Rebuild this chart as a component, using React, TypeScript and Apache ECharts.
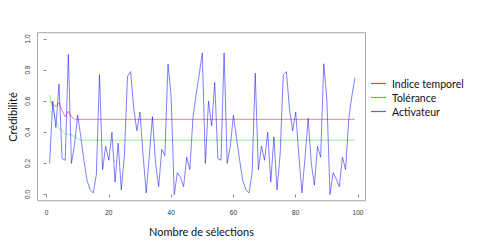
import React, { useEffect, useRef } from "react";
import * as echarts from "echarts";

const xTicks = [0, 20, 40, 60, 80, 100];
const yTicks = [0, 0.2, 0.4, 0.6, 0.8, 1.0];

const seriesNames = ["Indice temporel", "Tolérance", "Activateur"];

const indiceTemporel = [
  0.60, 0.58, 0.565, 0.59, 0.54, 0.50, 0.535, 0.50, 0.485, 0.483,
  0.483, 0.483, 0.483, 0.483, 0.483, 0.483, 0.483, 0.483, 0.483, 0.483,
  0.483, 0.483, 0.483, 0.483, 0.483, 0.483, 0.483, 0.483, 0.483, 0.483,
  0.483, 0.483, 0.483, 0.483, 0.483, 0.483, 0.483, 0.483, 0.483, 0.483,
  0.483, 0.483, 0.483, 0.483, 0.483, 0.483, 0.483, 0.483, 0.483, 0.483,
  0.483, 0.483, 0.483, 0.483, 0.483, 0.483, 0.483, 0.483, 0.483, 0.483,
  0.483, 0.483, 0.483, 0.483, 0.483, 0.483, 0.483, 0.483, 0.483, 0.483,
  0.483, 0.483, 0.483, 0.483, 0.483, 0.483, 0.483, 0.483, 0.483, 0.483,
  0.483, 0.483, 0.483, 0.483, 0.483, 0.483, 0.483, 0.483, 0.483, 0.483,
  0.483, 0.483, 0.483, 0.483, 0.483, 0.483, 0.483, 0.483, 0.483,
];

const tolerance = [
  0.64, 0.55, 0.47, 0.43, 0.41, 0.39, 0.385, 0.383, 0.37, 0.36,
  0.35, 0.349, 0.349, 0.349, 0.349, 0.349, 0.349, 0.349, 0.349, 0.349,
  0.349, 0.349, 0.349, 0.349, 0.349, 0.349, 0.349, 0.349, 0.349, 0.349,
  0.349, 0.349, 0.349, 0.349, 0.349, 0.349, 0.349, 0.349, 0.349, 0.349,
  0.349, 0.349, 0.349, 0.349, 0.349, 0.349, 0.349, 0.349, 0.349, 0.349,
  0.349, 0.349, 0.349, 0.349, 0.349, 0.349, 0.349, 0.349, 0.349, 0.349,
  0.349, 0.349, 0.349, 0.349, 0.349, 0.349, 0.349, 0.349, 0.349, 0.349,
  0.349, 0.349, 0.349, 0.349, 0.349, 0.349, 0.349, 0.349, 0.349, 0.349,
  0.349, 0.349, 0.349, 0.349, 0.349, 0.349, 0.349, 0.349, 0.349, 0.349,
  0.349, 0.349, 0.349, 0.349, 0.349, 0.349, 0.349, 0.349, 0.349,
];

const activateur = [
  0.20, 0.60, 0.43, 0.71, 0.23, 0.22, 0.90, 0.20, 0.32, 0.51,
  0.37, 0.22, 0.09, 0.03, 0.01, 0.13, 0.77, 0.16, 0.31, 0.22,
  0.40, 0.08, 0.33, 0.03, 0.25, 0.76, 0.79, 0.55, 0.41, 0.53,
  0.25, 0.01, 0.25, 0.50, 0.20, 0.05, 0.29, 0.25, 0.84, 0.63,
  0.00, 0.14, 0.11, 0.05, 0.24, 0.16, 0.49, 0.64, 0.77, 0.91,
  0.20, 0.60, 0.44, 0.72, 0.23, 0.22, 0.91, 0.20, 0.31, 0.51,
  0.36, 0.22, 0.09, 0.03, 0.01, 0.14, 0.78, 0.16, 0.31, 0.22,
  0.40, 0.08, 0.37, 0.03, 0.26, 0.77, 0.79, 0.55, 0.41, 0.53,
  0.25, 0.01, 0.24, 0.49, 0.20, 0.06, 0.31, 0.24, 0.84, 0.61,
  0.00, 0.14, 0.10, 0.05, 0.24, 0.16, 0.48, 0.63, 0.75,
];

const lineColors = ["rgba(255,0,0,0.5)", "rgba(0,230,0,0.45)", "rgba(0,0,255,0.5)"];
const legendColors = ["#e84040", "#22ee22", "#5a5aff"];

const toPairs = (arr: number[]) => arr.map((v, i) => [i + 1, v]);

const titleFont = "Lato, 'Open Sans', sans-serif";
const tickFont = "'Liberation Sans', Arial, sans-serif";

export default function App() {
  const ref = useRef<HTMLDivElement>(null);
  useEffect(() => {
    if (!ref.current) return;
    const chart = echarts.init(ref.current, undefined, { renderer: "svg" });
    const gridLeft = 37.5;
    const gridRight = 365.5;
    const legendY = [83.5, 97.5, 111.5];
    const legendGraphics: any[] = [];
    seriesNames.forEach((n, k) => {
      legendGraphics.push({
        type: "rect",
        shape: { x: 371, y: legendY[k] - 0.6, width: 15, height: 1.2 },
        style: { fill: legendColors[k], stroke: null },
      });
      legendGraphics.push({
        type: "text",
        x: 392,
        y: legendY[k],
        style: {
          text: n,
          fontSize: 10.5,
          fontFamily: titleFont,
          fill: "#111",
          align: "left",
          verticalAlign: "middle",
        },
      });
    });
    chart.setOption({
      animation: false,
      grid: {
        left: gridLeft,
        right: 500 - gridRight,
        top: 32.7,
        bottom: 41.3,
        show: true,
        borderColor: "#a8a8a8",
        borderWidth: 1,
        backgroundColor: "transparent",
      },
      xAxis: {
        type: "value",
        min: -2.9,
        max: 102.4,
        splitLine: { show: false },
        axisLine: { show: false },
        axisTick: { show: true, length: 3, customValues: xTicks, lineStyle: { color: "#888" } },
        axisLabel: {
          customValues: xTicks,
          fontSize: 6.5,
          fontFamily: tickFont,
          color: "#333",
          margin: 8,
        },
      },
      yAxis: {
        type: "value",
        min: -0.04,
        max: 1.04,
        splitLine: { show: false },
        axisLine: { show: false },
        axisTick: { show: true, length: 3, customValues: yTicks, lineStyle: { color: "#888" } },
        axisLabel: {
          customValues: yTicks,
          rotate: 90,
          fontSize: 6.5,
          fontFamily: tickFont,
          color: "#333",
          margin: 7,
          formatter: (v: number) => v.toFixed(1),
        },
      },
      series: [indiceTemporel, tolerance, activateur].map((arr, k) => ({
        name: seriesNames[k],
        type: "line",
        data: toPairs(arr),
        showSymbol: false,
        symbol: "none",
        lineStyle: { color: lineColors[k], width: 1 },
        itemStyle: { color: lineColors[k] },
        z: 2 + k,
      })),
      graphic: [
        {
          type: "text",
          x: 12,
          y: 117,
          rotation: Math.PI / 2,
          style: {
            text: "Crédibilité",
            fontSize: 11,
            fontFamily: titleFont,
            fill: "#111",
            align: "center",
            verticalAlign: "middle",
          },
        },
        {
          type: "text",
          x: 201.5,
          y: 231,
          style: {
            text: "Nombre de sélections",
            fontSize: 11,
            fontFamily: titleFont,
            fill: "#111",
            align: "center",
            verticalAlign: "middle",
          },
        },
        ...legendGraphics,
      ],
    });
    return () => chart.dispose();
  }, []);
  return (
    <div
      ref={ref}
      style={{ position: "absolute", left: 0, top: 0, width: 500, height: 242, background: "#fff" }}
    />
  );
}
